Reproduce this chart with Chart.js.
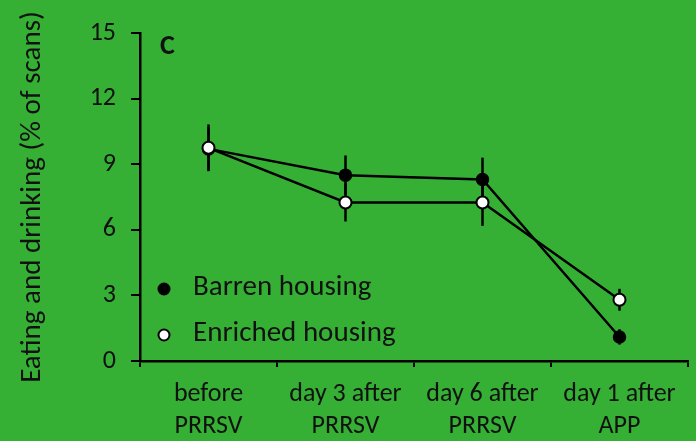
<!DOCTYPE html>
<html>
<head>
<meta charset="utf-8">
<script src="https://cdn.jsdelivr.net/npm/chart.js@4.4.1/dist/chart.umd.min.js"></script>
<style>
  html, body { margin: 0; padding: 0; background: #35b035; }
  #wrap { width: 696px; height: 441px; }
</style>
</head>
<body>
<div id="wrap"><canvas id="eatChart" width="696" height="441"></canvas></div>
<script>
// time points and group means / SE
const categories = [["before", "PRRSV"], ["day 3 after", "PRRSV"], ["day 6 after", "PRRSV"], ["day 1 after", "APP"]];
const barren = [9.7, 8.5, 8.3, 1.1];
const barrenErr = [1.0, 0.9, 1.0, 0.35];
const enriched = [9.75, 7.25, 7.25, 2.8];
const enrichedErr = [1.07, 0.87, 1.07, 0.5];
const yTicks = [0, 3, 6, 9, 12, 15];

const FONT = "Carlito, Lato, 'Liberation Sans', sans-serif";
const INK = "#111";

// vertical error bars, drawn under the points
const errorBars = {
  id: "errorBars",
  beforeDatasetsDraw(chart) {
    const { ctx, scales: { x, y } } = chart;
    ctx.save();
    ctx.strokeStyle = "#000";
    ctx.lineWidth = 2.5;
    chart.data.datasets.forEach(ds => {
      ds.data.forEach((v, i) => {
        const px = x.getPixelForValue(i);
        ctx.beginPath();
        ctx.moveTo(px, y.getPixelForValue(v + ds.err[i]));
        ctx.lineTo(px, y.getPixelForValue(v - ds.err[i]));
        ctx.stroke();
      });
    });
    ctx.restore();
  }
};

// panel letter and legend inside the plot
const panelText = {
  id: "panelText",
  afterDraw(chart) {
    const { ctx, chartArea: a } = chart;
    ctx.save();
    ctx.fillStyle = INK;
    ctx.font = "bold 28px " + FONT;
    ctx.textBaseline = "middle";
    ctx.fillText("C", a.left + 20, a.top + 14);

    ctx.font = "29px " + FONT;
    const rows = [chart.data.datasets.find(d => d.label === "Barren housing"),
                  chart.data.datasets.find(d => d.label === "Enriched housing")];
    rows.forEach((ds, k) => {
      const cy = 288 + k * 46;
      ctx.beginPath();
      ctx.arc(a.left + 24, cy + 1, 5.5, 0, Math.PI * 2);
      ctx.fillStyle = ds.pointBackgroundColor;
      ctx.fill();
      ctx.lineWidth = 2;
      ctx.strokeStyle = "#000";
      ctx.stroke();
      ctx.fillStyle = INK;
      ctx.fillText(ds.label, a.left + 53, cy);
    });
    ctx.restore();
  }
};

new Chart(document.getElementById("eatChart").getContext("2d"), {
  type: "line",
  data: {
    labels: categories,
    datasets: [{
      label: "Barren housing",
      data: barren,
      err: barrenErr,
      order: 1,
      borderColor: "#000",
      borderWidth: 2.5,
      pointRadius: 6,
      pointBackgroundColor: "#000",
      pointBorderColor: "#000",
      pointBorderWidth: 1.5,
      tension: 0
    }, {
      label: "Enriched housing",
      data: enriched,
      err: enrichedErr,
      order: 0,
      borderColor: "#000",
      borderWidth: 2.5,
      pointRadius: 6,
      pointBackgroundColor: "#fff",
      pointBorderColor: "#000",
      pointBorderWidth: 2,
      tension: 0
    }]
  },
  options: {
    responsive: false,
    animation: false,
    layout: { padding: { top: 33, right: 6, left: 0, bottom: 0 } },
    plugins: {
      legend: { display: false },
      tooltip: { enabled: false }
    },
    scales: {
      x: {
        offset: true,
        grid: { offset: true, drawOnChartArea: false, drawTicks: true, tickLength: 6, color: "#000", lineWidth: 2 },
        border: { display: true, color: "#000", width: 2.5 },
        ticks: { color: INK, font: { family: FONT, size: 26, lineHeight: 1.22 }, padding: 12, maxRotation: 0, autoSkip: false },
        afterFit(s) { s.height = 80; }
      },
      y: {
        min: 0,
        max: 15,
        afterBuildTicks(s) { s.ticks = yTicks.map(v => ({ value: v })); },
        grid: { drawOnChartArea: false, drawTicks: true, tickLength: 9, color: "#000", lineWidth: 2 },
        border: { display: true, color: "#000", width: 2.5 },
        ticks: { color: INK, font: { family: FONT, size: 26 }, padding: 15 },
        title: {
          display: true,
          text: "Eating and drinking (% of scans)",
          color: INK,
          font: { family: FONT, size: 29 },
          padding: { top: 15, bottom: 0 }
        },
        afterFit(s) { s.width = 140; }
      }
    }
  },
  plugins: [errorBars, panelText]
});
</script>
</body>
</html>
